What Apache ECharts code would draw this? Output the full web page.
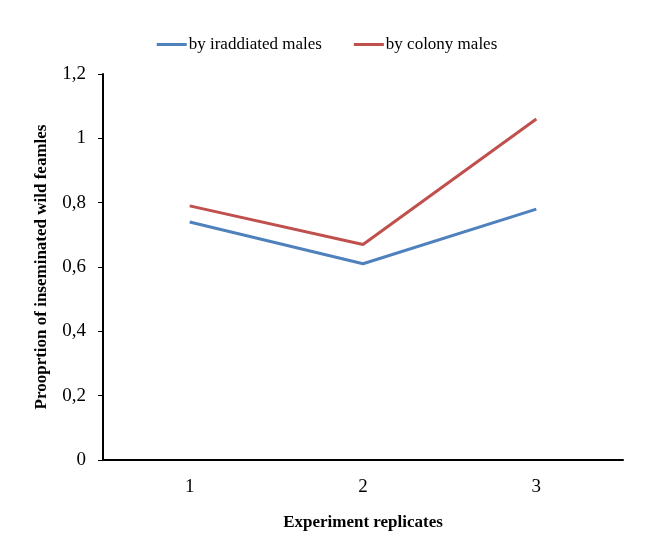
<!DOCTYPE html>
<html><head><meta charset="utf-8">
<script src="https://cdn.jsdelivr.net/npm/echarts@6/dist/echarts.min.js"></script>
<style>html,body{margin:0;padding:0;background:#fff}#c{width:654px;height:556px}</style>
</head><body><div id="c"></div>
<script>
var categories = ['1', '2', '3'];
var irradiated = [0.74, 0.61, 0.78];
var colony = [0.79, 0.67, 1.06];
var seriesNames = ['by iraddiated males', 'by colony males'];
var xTitle = 'Experiment replicates';
var yTitle = 'Prooprtion of inseminated wild feamles';

var chart = echarts.init(document.getElementById('c'), null, {renderer: 'canvas'});
var font = 'Liberation Serif, Times New Roman, serif';
chart.setOption({
  animation: false,
  backgroundColor: '#fff',
  textStyle: {fontFamily: font},
  legend: {
    top: 31, left: 'center', itemGap: 32, itemWidth: 30, itemHeight: 3,
    icon: 'rect',
    textStyle: {fontFamily: font, fontSize: 17, color: '#000', padding: [0,0,0,-3]},
    data: seriesNames
  },
  grid: {left: 103, right: 31, top: 74, bottom: 96, containLabel: false},
  xAxis: {
    type: 'category', data: categories, boundaryGap: true,
    name: xTitle, nameLocation: 'middle', nameGap: 54,
    nameTextStyle: {fontFamily: font, fontSize: 17, fontWeight: 'bold', color: '#000'},
    axisLine: {lineStyle: {color: '#000', width: 2}},
    axisTick: {show: false},
    axisLabel: {fontFamily: font, fontSize: 19, color: '#000', margin: 18},
    splitLine: {show: false}
  },
  yAxis: {
    type: 'value', min: 0, max: 1.2, interval: 0.2,
    name: yTitle, nameLocation: 'middle', nameGap: 53, nameRotate: 90,
    nameTextStyle: {fontFamily: font, fontSize: 17, fontWeight: 'bold', color: '#000'},
    axisLine: {show: true, lineStyle: {color: '#000', width: 2}},
    axisTick: {show: true, length: 5, lineStyle: {color: '#000', width: 1}},
    axisLabel: {fontFamily: font, fontSize: 19, color: '#000', margin: 17,
      formatter: function(v){ return String(Math.round(v*10)/10).replace('.', ','); }},
    splitLine: {show: false}
  },
  series: [
    {name: seriesNames[0], type: 'line', data: irradiated, showSymbol: false,
     color: '#4F81BD', lineStyle: {width: 3, color: '#4F81BD'}},
    {name: seriesNames[1], type: 'line', data: colony, showSymbol: false,
     color: '#C0504D', lineStyle: {width: 3, color: '#C0504D'}}
  ]
});
</script></body></html>
